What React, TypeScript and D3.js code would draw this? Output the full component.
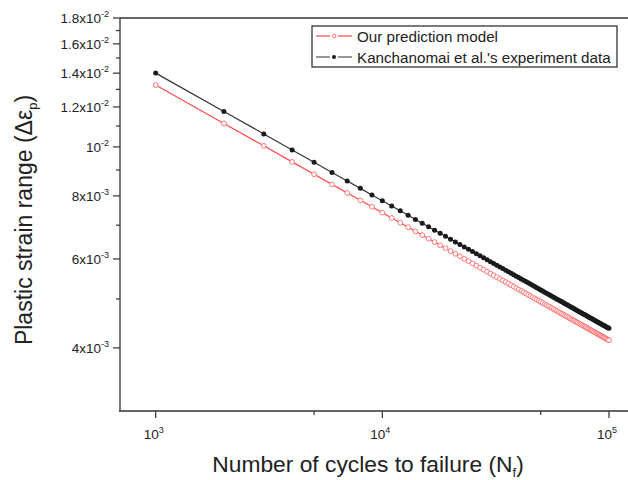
import React from "react";
import * as d3 from "d3";

// Number of cycles to failure, in thousands of cycles
const kiloCycles = [
  1, 2, 3, 4, 5, 6, 7, 8, 9, 10, 11, 12, 13, 14, 15, 16, 17, 18, 19, 20,
  21, 22, 23, 24, 25, 26, 27, 28, 29, 30, 31, 32, 33, 34, 35, 36, 37, 38, 39, 40,
  41, 42, 43, 44, 45, 46, 47, 48, 49, 50, 51, 52, 53, 54, 55, 56, 57, 58, 59, 60,
  61, 62, 63, 64, 65, 66, 67, 68, 69, 70, 71, 72, 73, 74, 75, 76, 77, 78, 79, 80,
  81, 82, 83, 84, 85, 86, 87, 88, 89, 90, 91, 92, 93, 94, 95, 96, 97, 98, 99, 100,
];

// Plastic strain range, in units of 1e-3
const predictionModel = [
  13.26, 11.13, 10.05, 9.341, 8.829, 8.431, 8.109, 7.840, 7.610, 7.410,
  7.234, 7.077, 6.935, 6.806, 6.689, 6.580, 6.481, 6.387, 6.301, 6.220,
  6.143, 6.072, 6.004, 5.940, 5.879, 5.821, 5.765, 5.713, 5.662, 5.614,
  5.568, 5.523, 5.480, 5.439, 5.400, 5.361, 5.325, 5.288, 5.254, 5.220,
  5.188, 5.156, 5.126, 5.096, 5.067, 5.039, 5.012, 4.985, 4.960, 4.934,
  4.910, 4.886, 4.862, 4.839, 4.817, 4.795, 4.773, 4.753, 4.732, 4.712,
  4.692, 4.673, 4.654, 4.636, 4.618, 4.600, 4.582, 4.565, 4.548, 4.532,
  4.516, 4.500, 4.484, 4.469, 4.454, 4.439, 4.424, 4.410, 4.396, 4.382,
  4.367, 4.354, 4.341, 4.328, 4.315, 4.302, 4.290, 4.277, 4.265, 4.253,
  4.241, 4.230, 4.218, 4.207, 4.195, 4.184, 4.173, 4.163, 4.152, 4.141,
];

const experimentData = [
  14.00, 11.75, 10.61, 9.862, 9.322, 8.902, 8.562, 8.278, 8.035, 7.824,
  7.638, 7.472, 7.322, 7.186, 7.062, 6.948, 6.842, 6.744, 6.653, 6.567,
  6.486, 6.411, 6.339, 6.271, 6.207, 6.146, 6.087, 6.032, 5.978, 5.927,
  5.879, 5.831, 5.786, 5.743, 5.701, 5.660, 5.622, 5.584, 5.547, 5.512,
  5.478, 5.444, 5.412, 5.381, 5.350, 5.321, 5.292, 5.263, 5.236, 5.210,
  5.184, 5.158, 5.133, 5.109, 5.086, 5.062, 5.040, 5.018, 4.996, 4.975,
  4.954, 4.934, 4.914, 4.894, 4.876, 4.857, 4.838, 4.820, 4.802, 4.785,
  4.768, 4.751, 4.734, 4.718, 4.702, 4.687, 4.671, 4.656, 4.641, 4.626,
  4.611, 4.597, 4.583, 4.569, 4.556, 4.542, 4.529, 4.516, 4.503, 4.490,
  4.478, 4.466, 4.453, 4.442, 4.430, 4.418, 4.406, 4.395, 4.383, 4.373,
];

// Y tick labels: [value, mantissa label, exponent]
const yMajorTicks: [number, string, string][] = [
  [4e-3, "4x10", "-3"],
  [6e-3, "6x10", "-3"],
  [8e-3, "8x10", "-3"],
  [1e-2, "10", "-2"],
  [1.2e-2, "1.2x10", "-2"],
  [1.4e-2, "1.4x10", "-2"],
  [1.6e-2, "1.6x10", "-2"],
  [1.8e-2, "1.8x10", "-2"],
];
const yMinorTicks = [5e-3, 7e-3, 9e-3, 1.1e-2, 1.3e-2, 1.5e-2, 1.7e-2];
const xMajorTicks: [number, string][] = [
  [1e3, "3"],
  [1e4, "4"],
  [1e5, "5"],
];
const xMinorTicks = [5e3, 5e4];

const seriesNames = ["Our prediction model", "Kanchanomai et al.'s experiment data"];

const FONT = "'Liberation Sans', Arial, Helvetica, sans-serif";
const RED = "#ff4a4a";
const RED_MARK = "#ff6b6b";
const BLACK = "#1a1a1a";
const TEXT = "#222";

export default function App() {
  const W = 628;
  const H = 480;
  const left = 120;
  const right = 645;
  const top = 18;
  const bottom = 411;

  const x = d3.scaleLog().domain([696, 144200]).range([left, right]);
  const y = d3.scaleLog().domain([3e-3, 1.8e-2]).range([bottom, top]);

  const redPts = kiloCycles.map((k, i) => [x(k * 1000), y(predictionModel[i] * 1e-3)] as [number, number]);
  const blkPts = kiloCycles.map((k, i) => [x(k * 1000), y(experimentData[i] * 1e-3)] as [number, number]);
  const line = d3.line();

  return (
    <svg
      width={W}
      height={H}
      style={{ position: "absolute", left: 0, top: 0, background: "#fff" }}
      fontFamily={FONT}
    >
      <rect x={0} y={0} width={W} height={H} fill="#fff" />
      {/* frame */}
      <line x1={left} y1={top} x2={right} y2={top} stroke="#333" strokeWidth={1.3} />
      <line x1={left} y1={top} x2={left} y2={bottom} stroke="#333" strokeWidth={1.3} />
      <line x1={left - 1} y1={bottom} x2={right} y2={bottom} stroke="#333" strokeWidth={1.3} />

      {/* y ticks */}
      {yMajorTicks.map(([v, m, e]) => (
        <g key={"ym" + v}>
          <line x1={left - 7} x2={left} y1={y(v)} y2={y(v)} stroke="#333" strokeWidth={1.2} />
          <text x={left - 11} y={y(v) + 5} fontSize={13.5} fill={TEXT} textAnchor="end">
            {m}
            <tspan fontSize={9} dy={-6}>{e}</tspan>
          </text>
        </g>
      ))}
      {yMinorTicks.map((v) => (
        <line key={"yn" + v} x1={left - 4} x2={left} y1={y(v)} y2={y(v)} stroke="#333" strokeWidth={1.2} />
      ))}

      {/* x ticks */}
      {xMajorTicks.map(([v, e]) => (
        <g key={"xm" + v}>
          <line x1={x(v)} x2={x(v)} y1={bottom} y2={bottom + 7} stroke="#333" strokeWidth={1.2} />
          <text x={x(v) - 2} y={bottom + 28} fontSize={13.5} fill={TEXT} textAnchor="middle">
            10
            <tspan fontSize={9} dy={-6}>{e}</tspan>
          </text>
        </g>
      ))}
      {xMinorTicks.map((v) => (
        <line key={"xn" + v} x1={x(v)} x2={x(v)} y1={bottom} y2={bottom + 4} stroke="#333" strokeWidth={1.2} />
      ))}

      {/* series */}
      <path d={line(blkPts) || ""} fill="none" stroke="#333" strokeWidth={1.2} />
      <path d={line(redPts) || ""} fill="none" stroke={RED} strokeWidth={1.2} />
      {redPts.map((p, i) => (
        <circle key={"r" + i} cx={p[0]} cy={p[1]} r={2.4} fill="#fff" stroke={RED_MARK} strokeWidth={0.9} />
      ))}
      {blkPts.map((p, i) => (
        <circle key={"b" + i} cx={p[0]} cy={p[1]} r={2.5} fill={BLACK} />
      ))}

      {/* legend */}
      <rect x={312} y={26} width={305} height={41} fill="#fff" stroke="#222" strokeWidth={1.2} />
      <line x1={316} x2={330} y1={36} y2={36} stroke={RED_MARK} strokeWidth={1.5} />
      <line x1={338} x2={352} y1={36} y2={36} stroke={RED_MARK} strokeWidth={1.5} />
      <circle cx={334} cy={36} r={1.8} fill="#fff" stroke={RED_MARK} strokeWidth={0.9} />
      <text x={357} y={41.5} fontSize={15.2} fill={TEXT}>{seriesNames[0]}</text>
      <line x1={316} x2={330} y1={57} y2={57} stroke="#777" strokeWidth={1.5} />
      <line x1={338} x2={352} y1={57} y2={57} stroke="#777" strokeWidth={1.5} />
      <circle cx={334} cy={57} r={2} fill={BLACK} />
      <text x={357} y={62.5} fontSize={15.2} fill={TEXT}>{seriesNames[1]}</text>

      {/* axis titles */}
      <text x={368} y={472} fontSize={22.8} fill={TEXT} textAnchor="middle">
        Number of cycles to failure (N
        <tspan fontSize={13} dy={5}>f</tspan>
        <tspan dy={-5}>)</tspan>
      </text>
      <text
        transform="translate(32,220) rotate(-90)"
        fontSize={23}
        fill={TEXT}
        textAnchor="middle"
      >
        Plastic strain range (Δε
        <tspan fontSize={13} dy={5}>p</tspan>
        <tspan dy={-5}>)</tspan>
      </text>
    </svg>
  );
}
